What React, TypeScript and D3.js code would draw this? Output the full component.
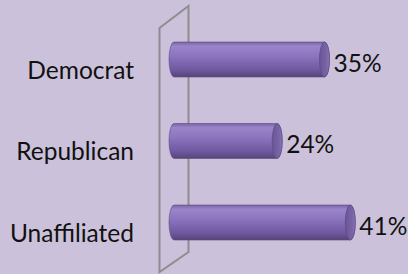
import React from "react";
import { scaleLinear, scalePoint } from "d3";

const categories = ["Democrat", "Republican", "Unaffiliated"];
const values = [35, 24, 41];
const valueLabels = ["35%", "24%", "41%"];

const width = 408;
const height = 274;
const barH = 35;
const rx = 5;

export default function App() {
  const x = scaleLinear().domain([0, 50]).range([174, 389]);
  const y = scalePoint().domain(categories).range([59.5, 222.5]);

  // back wall (3d-ish plane behind bars)
  const wall = { l: 159.5, r: 188.5, topL: 28, topR: 6, botL: 272, botR: 252 };

  const font = "Lato, 'Open Sans', sans-serif";

  return (
    <svg
      width={width}
      height={height}
      style={{ position: "absolute", left: 0, top: 0, background: "#ccc1da" }}
    >
      <defs>
        <linearGradient id="cyl" x1="0" y1="0" x2="0" y2="1">
          <stop offset="0" stopColor="#7a63a6" />
          <stop offset="0.12" stopColor="#9a85ca" />
          <stop offset="0.4" stopColor="#8c74bf" />
          <stop offset="0.8" stopColor="#6f589f" />
          <stop offset="1" stopColor="#574479" />
        </linearGradient>
        <linearGradient id="cap" x1="0" y1="0" x2="1" y2="0">
          <stop offset="0" stopColor="#6a5596" />
          <stop offset="0.7" stopColor="#7a64a8" />
          <stop offset="1" stopColor="#8d78bb" />
        </linearGradient>
      </defs>

      <path
        d={`M${wall.l},${wall.botL} L${wall.l},${wall.topL} L${wall.r},${wall.topR} L${wall.r},${wall.botR} Z`}
        fill="none"
        stroke="#8e8e8e"
        strokeWidth={2}
      />

      {categories.map((c, i) => {
        const cy = y(c)!;
        const top = cy - barH / 2;
        const bot = cy + barH / 2;
        const x0 = x(0);
        const x1 = x(values[i]);
        const ry = barH / 2;
        return (
          <g key={c}>
            <path
              d={`M${x0},${top} L${x1},${top} A${rx},${ry} 0 0 1 ${x1},${bot} L${x0},${bot} A${rx},${ry} 0 0 1 ${x0},${top} Z`}
              fill="url(#cyl)"
              stroke="#5c4a80"
              strokeOpacity={0.6}
              strokeWidth={1}
            />
            <ellipse
              cx={x1}
              cy={cy}
              rx={rx}
              ry={ry}
              fill="url(#cap)"
              stroke="#5c4a80"
              strokeOpacity={0.7}
              strokeWidth={1}
            />
            <text
              x={134}
              y={cy + 19}
              textAnchor="end"
              fontFamily={font}
              fontSize={24.5}
              fill="#111"
            >
              {c}
            </text>
            <text
              x={x1 + rx + 4}
              y={cy + 12}
              fontFamily={font}
              fontSize={24.5}
              fill="#111"
            >
              {valueLabels[i]}
            </text>
          </g>
        );
      })}
    </svg>
  );
}
